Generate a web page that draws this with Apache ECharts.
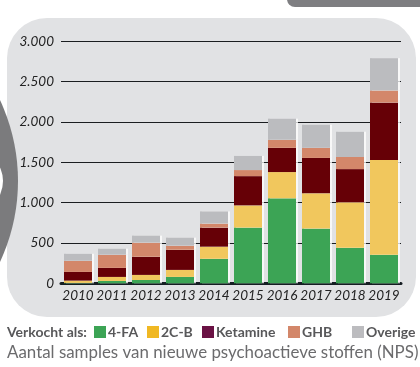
<!DOCTYPE html>
<html><head><meta charset="utf-8">
<script src="https://cdn.jsdelivr.net/npm/echarts@6/dist/echarts.min.js"></script>
<style>html,body{margin:0;padding:0;background:#fff}#c{width:420px;height:367px}</style>
</head><body><div id="c"></div>
<script>
const categories = ['2010','2011','2012','2013','2014','2015','2016','2017','2018','2019'];
const fa4  = [5, 29, 41, 79, 304, 691, 1054, 679, 441, 354];
const c2b  = [28, 50, 63, 87, 150, 275, 325, 437, 563, 1175];
const ket  = [108, 112, 225, 250, 237, 363, 300, 438, 412, 712];
const ghb  = [138, 163, 175, 50, 50, 75, 100, 125, 150, 150];
const over = [87, 75, 87, 100, 150, 175, 262, 287, 313, 400];
const seriesNames = ['4-FA', '2C-B', 'Ketamine', 'GHB', 'Overige'];
const barColors = ['#3ca455', '#f1c75d', '#660006', '#d3876a', '#bbbcbf'];
const legendColors = ['#3ca455', '#f0b823', '#6a1244', '#d3876a', '#bcbcbf'];
const legendLefts = [94, 147, 202, 288, 352];
const yTicks = [0, 500, 1000, 1500, 2000, 2500, 3000];

const chart = echarts.init(document.getElementById('c'), null, {renderer: 'canvas'});
const font = 'Lato, "Open Sans", sans-serif';
const dataSets = [fa4, c2b, ket, ghb, over];

const series = dataSets.map((d, i) => ({
  name: seriesNames[i], type: 'bar', stack: 'all', data: d, barWidth: 28,
  itemStyle: {color: barColors[i], shadowColor: 'rgba(255,255,255,0.75)', shadowOffsetX: 2, shadowBlur: 0},
  emphasis: {disabled: true}, animation: false
}));

const legends = seriesNames.map((n, i) => ({
  left: legendLefts[i], top: 325, padding: 0, itemWidth: 12, itemHeight: 12, itemGap: 0,
  icon: 'rect', selectedMode: false,
  data: [{name: n, itemStyle: {color: legendColors[i]}}],
  textStyle: {color: '#58585a', fontFamily: font, fontSize: 14, fontWeight: 'bold', padding: [0,0,0,-3]}
}));

chart.setOption({
  animation: false,
  graphic: [
    {type: 'rect', z: -20, shape: {x: 7, y: 18, width: 409, height: 299, r: 40}, style: {fill: '#e1e2e4'}},
    {type: 'rect', z: -20, shape: {x: 287, y: -12, width: 150, height: 19, r: 8}, style: {fill: '#7e7e81'}},
    {type: 'circle', z: 50, shape: {cx: -173, cy: 181, r: 191}, style: {fill: '#7b7b7d'}},
    {type: 'circle', z: 51, shape: {cx: -29, cy: 181, r: 32}, style: {fill: '#ffffff'}},
    {type: 'text', z: 60, left: 7, top: 325, style: {text: 'Verkocht als:', fill: '#58585a', font: 'bold 14px ' + font}},
    {type: 'text', z: 60, left: 7, top: 344, style: {text: 'Aantal samples van nieuwe psychoactieve stoffen (NPS)', fill: '#6b6b6d', font: '16.9px ' + font}}
  ],
  legend: legends,
  grid: {left: 61, right: 19, top: 41.3, bottom: 83.7, containLabel: false},
  xAxis: {
    type: 'category', data: categories,
    axisLine: {lineStyle: {color: '#151d22', width: 3}},
    axisTick: {show: false},
    axisLabel: {interval: 0, color: '#222', fontFamily: font, fontStyle: 'italic', fontSize: 13.5, margin: 5}
  },
  yAxis: {
    type: 'value', min: 0, max: 3000, interval: 500,
    axisLine: {show: false}, axisTick: {show: false},
    splitLine: {lineStyle: {color: '#1a1d20', width: 1}},
    axisLabel: {color: '#222', fontFamily: font, fontStyle: 'italic', fontSize: 13.5, margin: 7,
      formatter: v => v >= 1000 ? Math.floor(v/1000) + '.' + String(v % 1000).padStart(3, '0') : String(v)}
  },
  series: series
});
</script></body></html>
